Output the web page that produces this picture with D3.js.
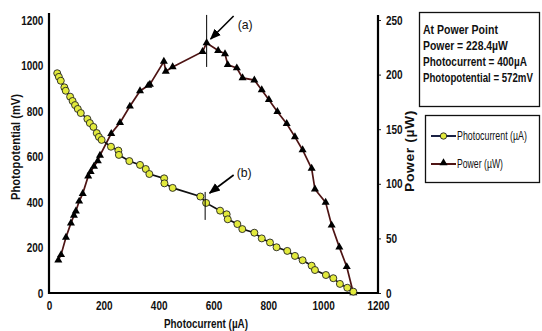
<!DOCTYPE html>
<html>
<head>
<meta charset="utf-8">
<script src="https://cdn.jsdelivr.net/npm/d3@7"></script>
<style>
  body { margin: 0; background: #fff; }
  svg { display: block; }
  text { font-family: 'Liberation Sans', Arial, sans-serif; fill: #111; }
</style>
</head>
<body>
<div id="chart"></div>
<script>
// photopotential (mV) vs photocurrent (µA)
const potCurrent = [30, 36, 43, 56, 61, 77, 86, 95, 105, 116, 140, 149, 162, 174, 182, 192, 226, 253, 255, 293,
    332, 353, 366, 420, 421, 451, 552, 573, 624, 648, 652, 687, 705, 749, 776, 806, 830, 869, 897, 925,
    958, 970, 1010, 1037, 1061, 1088, 1110];
const potential = [966, 950, 933, 904, 889, 863, 844, 826, 809, 791, 765, 747, 730, 703, 686, 673, 643, 626, 607, 580,
    563, 545, 523, 504, 482, 462, 424, 396, 362, 346, 324, 303, 281, 265, 240, 222, 201, 185, 163, 144,
    120, 101, 79, 65, 40, 23, 6];

// power (µW) vs photocurrent (µA)
const powCurrent = [34, 44, 62, 80, 91, 98, 110, 123, 143, 152, 164, 178, 186, 227, 259, 295, 332, 362, 368, 419,
    426, 451, 560, 575, 617, 642, 652, 685, 706, 749, 776, 802, 833, 867, 897, 925, 958, 970, 1009, 1031,
    1059, 1086, 1110];
const power = [30, 35, 51, 64, 71, 75, 84, 91, 107, 111, 116, 121, 126, 146, 156, 171, 185, 190, 191, 212,
    203, 207, 221, 229, 222, 219, 209, 206, 197, 195, 186, 177, 166, 155, 143, 131, 114, 95, 83, 62,
    42, 24, 0];

const xTicks = [0, 200, 400, 600, 800, 1000, 1200];
const leftTicks = [0, 200, 400, 600, 800, 1000, 1200];
const rightTicks = [0, 50, 100, 150, 200, 250];

const infoLines = ['At Power Point', 'Power = 228.4\u00b5W', 'Photocurrent = 400\u00b5A', 'Photopotential = 572mV'];
const legendLabels = ['Photocurrent (\u00b5A)', 'Power (\u00b5W)'];

const W = 542, H = 331;
const svg = d3.select('#chart').append('svg').attr('width', W).attr('height', H);

const x = d3.scaleLinear().domain([0, 1200]).range([49, 378]);
const yL = d3.scaleLinear().domain([0, 1200]).range([293, 20]);
const yR = d3.scaleLinear().domain([0, 250]).range([293, 20]);

const potColor = '#111', powColor = '#4e1414', dotFill = '#e2ea3c';

// squeeze a text horizontally to a target width (the original uses a narrow font)
function fit(sel, w) {
    sel.each(function () {
        const len = this.getComputedTextLength();
        const x0 = +(this.getAttribute('x') || 0);
        this.setAttribute('transform', 'translate(' + x0 + ',0) scale(' + (w / len) + ',1) translate(' + (-x0) + ',0)');
    });
}

// axes
const fmt = d3.format('d');
const bottom = svg.append('g').attr('transform', 'translate(0,293)')
    .call(d3.axisBottom(x).tickValues(xTicks).tickFormat(fmt).tickSize(0).tickPadding(8));
const left = svg.append('g').attr('transform', 'translate(49,0)')
    .call(d3.axisLeft(yL).tickValues(leftTicks).tickFormat(fmt).tickSize(0).tickPadding(7));
const right = svg.append('g').attr('transform', 'translate(378,0)')
    .call(d3.axisRight(yR).tickValues(rightTicks).tickFormat(fmt).tickSize(3).tickPadding(7));
[bottom, left, right].forEach(function (a) {
    a.select('.domain').remove();
    a.selectAll('text').style('font-size', '12.5px').style('font-weight', 'bold').attr('fill', '#222')
        .attr('transform', 'scale(0.8,1)');
    a.selectAll('line').attr('stroke', '#222');
});
svg.append('line').attr('x1', 49).attr('x2', 49).attr('y1', 13).attr('y2', 294).attr('stroke', '#000').attr('stroke-width', 2.2);
svg.append('line').attr('x1', 378).attr('x2', 378).attr('y1', 15).attr('y2', 294).attr('stroke', '#000').attr('stroke-width', 2.2);
svg.append('line').attr('x1', 48).attr('x2', 379).attr('y1', 293).attr('y2', 293).attr('stroke', '#000').attr('stroke-width', 2.2);

// axis titles
const tl = svg.append('g').attr('transform', 'translate(15.5,147) rotate(-90)');
tl.append('text').attr('text-anchor', 'middle').attr('dy', '0.35em')
    .style('font-size', '13.5px').style('font-weight', 'bold').text('Photopotential (mV)').call(fit, 106);
const tr = svg.append('g').attr('transform', 'translate(409,151) rotate(-90)');
tr.append('text').attr('text-anchor', 'middle').attr('dy', '0.35em').style('letter-spacing', '0.6px')
    .style('font-size', '13.5px').style('font-weight', 'bold').text('Power (\u00b5W)').call(fit, 82);
const tb = svg.append('g').attr('transform', 'translate(206,328)');
tb.append('text').attr('text-anchor', 'middle')
    .style('font-size', '13.5px').style('font-weight', 'bold').text('Photocurrent (\u00b5A)').call(fit, 84);

// power series
const powData = powCurrent.map(function (c, i) { return [c, power[i]]; });
svg.append('path').datum(powData)
    .attr('d', d3.line().x(function (d) { return x(d[0]); }).y(function (d) { return yR(d[1]); }))
    .attr('fill', 'none').attr('stroke', powColor).attr('stroke-width', 1.7);
const tri = d3.symbol().type(d3.symbolTriangle).size(28);
svg.append('g').selectAll('path').data(powData).join('path')
    .attr('d', tri)
    .attr('transform', function (d) { return 'translate(' + x(d[0]) + ',' + yR(d[1]) + ')'; })
    .attr('fill', '#000');

// photopotential series
const potData = potCurrent.map(function (c, i) { return [c, potential[i]]; });
svg.append('path').datum(potData)
    .attr('d', d3.line().x(function (d) { return x(d[0]); }).y(function (d) { return yL(d[1]); }))
    .attr('fill', 'none').attr('stroke', potColor).attr('stroke-width', 1.7);
svg.append('g').selectAll('circle').data(potData).join('circle')
    .attr('cx', function (d) { return x(d[0]); })
    .attr('cy', function (d) { return yL(d[1]); })
    .attr('r', 3.5).attr('fill', dotFill).attr('stroke', '#222').attr('stroke-width', 0.9);

// maximum power point markers
svg.append('defs').append('marker')
    .attr('id', 'arr').attr('viewBox', '0 -5 10 10').attr('refX', 9).attr('refY', 0)
    .attr('markerWidth', 7).attr('markerHeight', 7).attr('orient', 'auto')
    .append('path').attr('d', 'M0,-4L10,0L0,4Z').attr('fill', '#000');

const mx = x(575);
svg.append('line').attr('x1', mx).attr('x2', mx).attr('y1', yR(229) - 28).attr('y2', yR(229) + 24)
    .attr('stroke', '#000').attr('stroke-width', 1);
svg.append('line').attr('x1', mx + 27).attr('y1', 16).attr('x2', mx + 4).attr('y2', 39)
    .attr('stroke', '#000').attr('stroke-width', 1.6).attr('marker-end', 'url(#arr)');
svg.append('text').attr('x', mx + 31).attr('y', 29).style('font-size', '13.5px').text('(a)').call(fit, 15);

const my = yL(396);
svg.append('line').attr('x1', mx - 1.5).attr('x2', mx - 1.5).attr('y1', my - 11).attr('y2', my + 17)
    .attr('stroke', '#000').attr('stroke-width', 1);
svg.append('line').attr('x1', mx + 27).attr('y1', 175).attr('x2', mx + 3).attr('y2', 193)
    .attr('stroke', '#000').attr('stroke-width', 1.6).attr('marker-end', 'url(#arr)');
svg.append('text').attr('x', mx + 30).attr('y', 177).style('font-size', '13.5px').text('(b)').call(fit, 15);

// info box
svg.append('rect').attr('x', 419.5).attr('y', 12.5).attr('width', 120).attr('height', 94)
    .attr('fill', '#fff').attr('stroke', '#111').attr('stroke-width', 1.3);
const infoWidths = [75, 85, 104, 110];
svg.append('g').selectAll('text').data(infoLines).join('text')
    .attr('x', 423).attr('y', function (d, i) { return 34.5 + i * 15.8; })
    .style('font-size', '13px').style('font-weight', 'bold')
    .text(function (d) { return d; })
    .each(function (d, i) { fit(d3.select(this), infoWidths[i]); });

// legend box
svg.append('rect').attr('x', 425.5).attr('y', 115.5).attr('width', 114).attr('height', 67)
    .attr('fill', '#fff').attr('stroke', '#111').attr('stroke-width', 1.3);
const lg = svg.append('g');
lg.append('line').attr('x1', 431).attr('x2', 456).attr('y1', 136).attr('y2', 136)
    .attr('stroke', '#1a2244').attr('stroke-width', 2);
lg.append('circle').attr('cx', 443.5).attr('cy', 136).attr('r', 3.2).attr('fill', dotFill).attr('stroke', '#222').attr('stroke-width', 0.9);
lg.append('line').attr('x1', 431).attr('x2', 456).attr('y1', 164).attr('y2', 164)
    .attr('stroke', powColor).attr('stroke-width', 2);
lg.append('path').attr('d', tri).attr('transform', 'translate(443.5,163)').attr('fill', '#000');
const legendWidths = [70, 46];
lg.selectAll('text').data(legendLabels).join('text')
    .attr('x', 457).attr('y', function (d, i) { return 140.5 + i * 28; })
    .style('font-size', '13px')
    .text(function (d) { return d; })
    .each(function (d, i) { fit(d3.select(this), legendWidths[i]); });
</script>
</body>
</html>
